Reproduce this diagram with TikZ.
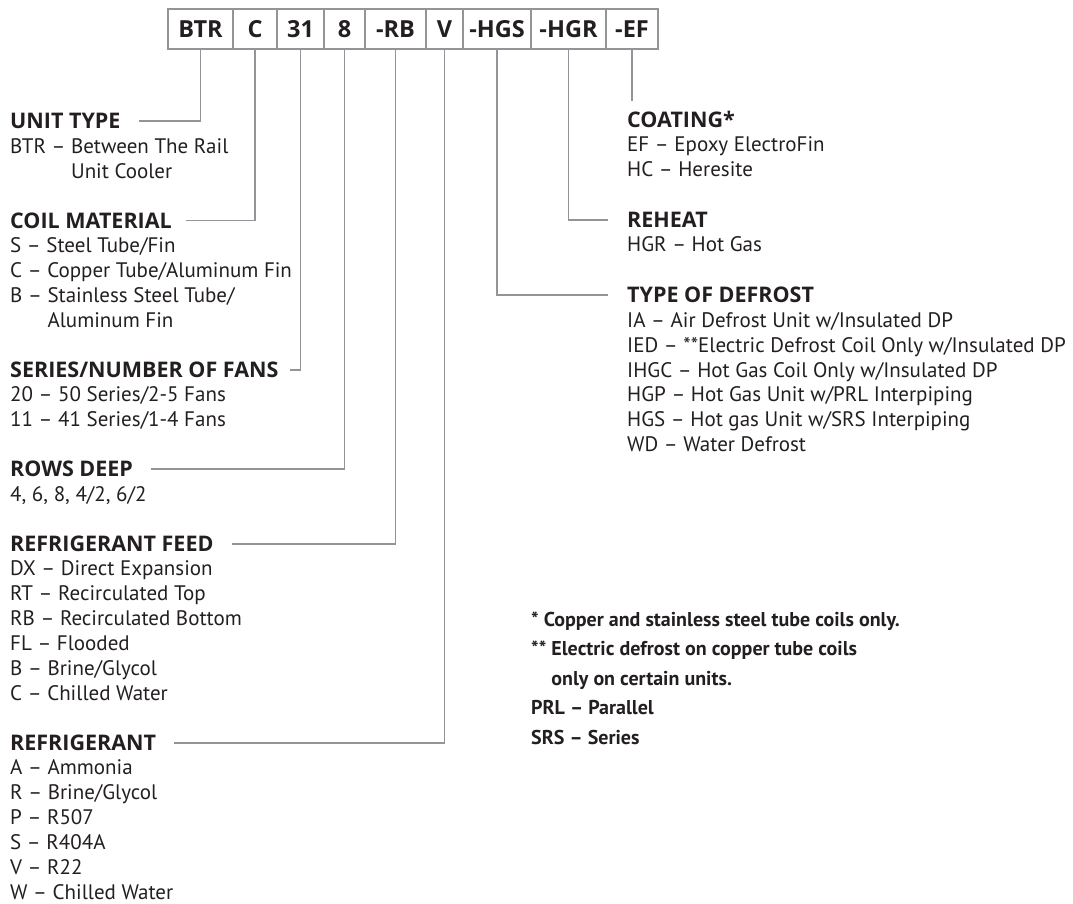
\documentclass[tikz,border=0pt]{standalone}
\usepackage{fontspec}
\setmainfont{PT Sans}
\newfontfamily\headfamily{Open Sans}
\definecolor{ink}{HTML}{231F20}
\definecolor{rulegray}{HTML}{929497}
\newcommand{\bodyfont}{\fontsize{21}{24.87}\selectfont}
\newcommand{\headfont}{\headfamily\bfseries\fontsize{21.5}{24.87}\selectfont}
\newcommand{\notefont}{\fontsize{20}{29.5}\selectfont\bfseries}
\begin{document}
\begin{tikzpicture}[x=1pt,y=-1pt]
      \tikzstyle{code}=[draw=rulegray,line width=1.8pt,minimum height=40pt,inner sep=0,text=ink,font=\headfamily\bfseries\fontsize{23.5}{24}\selectfont]
      \tikzstyle{head}=[anchor=west,inner sep=0,text=ink,font=\headfont,text height=15pt,text depth=0pt]
      \tikzstyle{items}=[anchor=base west,inner sep=0,align=left,text=ink,font=\bodyfont]
      \tikzstyle{link}=[draw=rulegray,line width=1.8pt]
      \useasboundingbox (0,0) rectangle (1073,903);
      % model code boxes
      \node[code,minimum width=65pt] (bBTR) at (200.5,29) {BTR};
      \node[code,minimum width=44pt] (bC) at (255,29) {C};
      \node[code,minimum width=47pt] (bSeries) at (300.5,29) {31};
      \node[code,minimum width=41pt] (bRows) at (344.5,29) {8};
      \node[code,minimum width=61pt] (bRB) at (395.5,29) {-RB};
      \node[code,minimum width=37pt] (bV) at (444.5,29) {V};
      \node[code,minimum width=68pt] (bHGS) at (497,29) {-HGS};
      \node[code,minimum width=75pt] (bHGR) at (568.5,29) {-HGR};
      \node[code,minimum width=52pt] (bEF) at (632,29) {-EF};
      % left column (items placed by the baseline of their last line)
      \node[head] (hUnit) at (10,121) {UNIT TYPE};
      \node[items] (iUnit) at (10,178) {BTR -- Between The Rail\\\phantom{BTR -- }Unit Cooler};
      \node[head] (hCoil) at (10,220.5) {COIL MATERIAL};
      \node[items] (iCoil) at (10,327.3) {S -- Steel Tube/Fin\\C -- Copper Tube/Aluminum Fin\\B -- Stainless Steel Tube/\\\phantom{B -- }Aluminum Fin};
      \node[head] (hSeries) at (10,369.7) {SERIES/NUMBER OF FANS};
      \node[items] (iSeries) at (10,426.8) {20 -- 50 Series/2-5 Fans\\11 -- 41 Series/1-4 Fans};
      \node[head] (hRows) at (10,469.2) {ROWS DEEP};
      \node[items] (iRows) at (10,501.3) {4, 6, 8, 4/2, 6/2};
      \node[head] (hFeed) at (10,543.8) {REFRIGERANT FEED};
      \node[items] (iFeed) at (10,700.3) {DX -- Direct Expansion\\RT -- Recirculated Top\\RB -- Recirculated Bottom\\FL -- Flooded\\B -- Brine/Glycol\\C -- Chilled Water};
      \node[head] (hRefr) at (10,742.8) {REFRIGERANT};
      \node[items] (iRefr) at (10,899.3) {A -- Ammonia\\R -- Brine/Glycol\\P -- R507\\S -- R404A\\V -- R22\\W -- Chilled Water};
      % right column
      \node[head] (hCoat) at (627,120) {COATING*};
      \node[items] (iCoat) at (627,176) {EF -- Epoxy ElectroFin\\HC -- Heresite};
      \node[head] (hReheat) at (627,220) {REHEAT};
      \node[items] (iReheat) at (627,251.5) {HGR -- Hot Gas};
      \node[head] (hDefrost) at (627,295) {TYPE OF DEFROST};
      \node[items] (iDefrost) at (627,451.7) {IA -- Air Defrost Unit w/Insulated DP\\IED -- **Electric Defrost Coil Only w/Insulated DP\\IHGC -- Hot Gas Coil Only w/Insulated DP\\HGP -- Hot Gas Unit w/PRL Interpiping\\HGS -- Hot gas Unit w/SRS Interpiping\\WD -- Water Defrost};
      % footnotes
      \node[items,font=\notefont] (notes) at (531,744) {* Copper and stainless steel tube coils only.\\** Electric defrost on copper tube coils\\\phantom{** }only on certain units.\\PRL -- Parallel\\SRS -- Series};
      % connectors
      \path[link,shorten >=18pt] (bBTR.south) |- (hUnit.east);
      \path[link,shorten >=14pt] (bC.south) |- (hCoil.east);
      \path[link,shorten >=11pt] (bSeries.south) |- (hSeries.east);
      \path[link,shorten >=18pt] (bRows.south) |- (hRows.east);
      \path[link,shorten >=18pt] (bRB.south) |- (hFeed.east);
      \path[link,shorten >=18pt] (bV.south) |- (hRefr.east);
      \path[link,shorten >=19pt] (bHGS.south) |- (hDefrost.west);
      \path[link,shorten >=19pt] (bHGR.south) |- (hReheat.west);
      \path[link,shorten >=11pt] (bEF.south) -- (bEF.south |- hCoat.north);
\end{tikzpicture}
\end{document}
